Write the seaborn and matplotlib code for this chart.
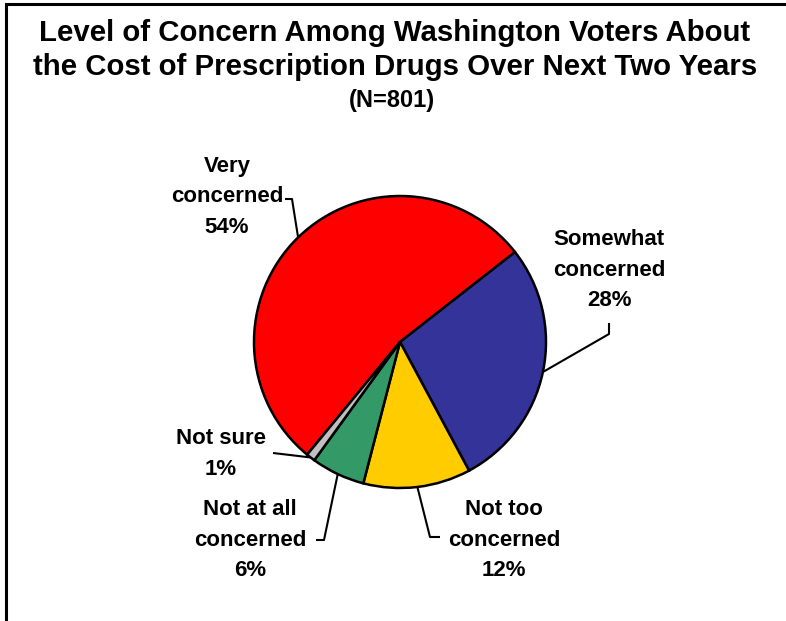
import numpy as np
import matplotlib
matplotlib.use('agg')
import matplotlib.pyplot as plt
import seaborn as sns
from matplotlib.patches import Rectangle

labels = ["Very\nconcerned\n54%", "Somewhat\nconcerned\n28%", "Not too\nconcerned\n12%",
          "Not at all\nconcerned\n6%", "Not sure\n1%"]
values = [54, 28, 12, 6, 1]
colors = ["#FF0000", "#333399", "#FFCC00", "#339966", "#C0C0C0"]

W, H = 786, 621
sns.set_style("white")
plt.rcParams['font.family'] = ['Liberation Sans', 'DejaVu Sans']
plt.rcParams['text.color'] = 'black'

fig = plt.figure(figsize=(W / 100, H / 100), dpi=100)
ax = fig.add_axes([0, 0, 1, 1])

cx, cy, r = 400, H - 342, 146
wedges, _ = ax.pie(values, colors=colors, startangle=230.5, counterclock=False,
                   center=(cx, cy), radius=r,
                   wedgeprops=dict(edgecolor='black', linewidth=1.8))
ax.set_xlim(0, W)
ax.set_ylim(0, H)
ax.axis('off')

# label text positions (pixel coords, y from top) and leader elbows
text_pos = [(227, 197), (609, 270), (504, 540), (250, 540), (221, 454)]
elbows = [
    [(292, 199), (285, 199)],
    [(609, 334), (609, 323)],
    [(430, 537), (440, 537)],
    [(324, 540), (316, 540)],
    [(290, 455), (273, 453)],
]

for w, lab, (tx, ty), elb in zip(wedges, labels, text_pos, elbows):
    mid = np.deg2rad((w.theta1 + w.theta2) / 2)
    ax_pt = (cx + r * np.cos(mid), cy + r * np.sin(mid))
    xs = [ax_pt[0]] + [p[0] for p in elb]
    ys = [ax_pt[1]] + [H - p[1] for p in elb]
    ax.plot(xs, ys, color='black', lw=1.5, solid_capstyle='butt')
    ax.text(tx, H - ty, lab, ha='center', va='center', fontsize=16,
            fontweight='bold', linespacing=1.6, color='black')

fig.text(395 / W, 1 - 33 / H, "Level of Concern Among Washington Voters About",
         ha='center', va='center', fontsize=21.2, fontweight='bold', color='black')
fig.text(395 / W, 1 - 67 / H, "the Cost of Prescription Drugs Over Next Two Years",
         ha='center', va='center', fontsize=21.2, fontweight='bold', color='black')
fig.text(392 / W, 1 - 100 / H, "(N=801)", ha='center', va='center',
         fontsize=17, fontweight='bold', color='black')

fig.patches.append(Rectangle((6 / W, -0.05), 1.1, 1 - 4 / H + 0.05,
                             transform=fig.transFigure, fill=False,
                             edgecolor='black', lw=2.2))

fig.savefig("out.png", dpi=100)
